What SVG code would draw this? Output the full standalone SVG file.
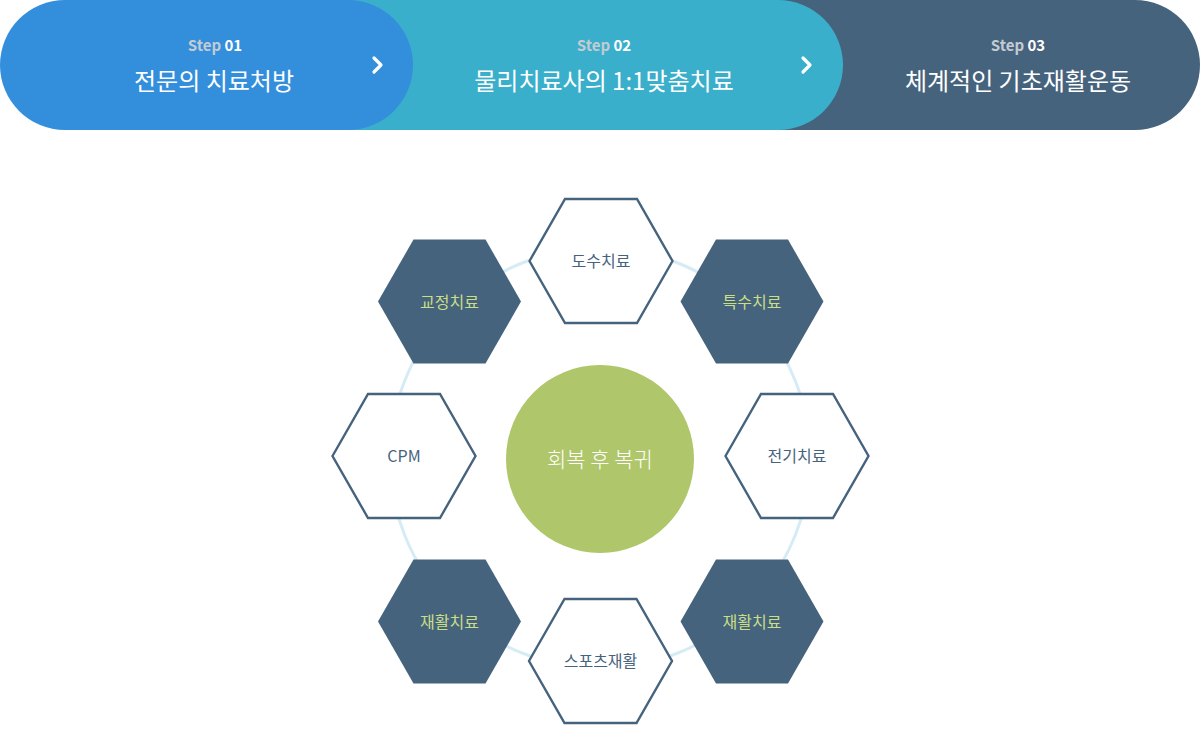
<svg xmlns="http://www.w3.org/2000/svg" xmlns:xlink="http://www.w3.org/1999/xlink" width="1200" height="747" viewBox="0 0 1200 747">
<style>
.kr{font-family:"Noto Sans CJK KR","Noto Sans",sans-serif}
.step{font-size:15px;font-weight:700;text-anchor:middle}
.step .lbl{fill:#c3cbd3}
.step .num{fill:#ffffff}
.title{font-size:24px;font-weight:400;fill:#ffffff;text-anchor:middle}
.chev{fill:none;stroke:#ffffff;stroke-width:3.2;stroke-linecap:round;stroke-linejoin:round}
.hexo{fill:#ffffff;stroke:#46637e;stroke-width:2.4}
.hexd{fill:#46637e;stroke:none}
.to{font-size:16px;font-weight:400;fill:#46637e;text-anchor:middle}
.td{font-size:16px;font-weight:400;fill:#c8df86;text-anchor:middle}
.ring{fill:none;stroke:#d6ecf5;stroke-width:3}
</style>
<defs>
<polygon id="hex" points="-71.5,0 -36,-62 36,-62 71.5,0 36,62 -36,62"/>
</defs>
<rect width="1200" height="747" fill="#ffffff"/>
<g id="step3">
<rect x="700" y="0" width="500" height="130" rx="65" ry="65" fill="#46637e"/>
<text class="kr step" x="1018" y="51"><tspan class="lbl">Step</tspan> <tspan class="num">03</tspan></text>
<text class="kr title" x="1018" y="90">체계적인 기초재활운동</text>
</g>
<g id="step2">
<rect x="250" y="0" width="593" height="130" rx="65" ry="65" fill="#3aafcb"/>
<text class="kr step" x="604" y="51"><tspan class="lbl">Step</tspan> <tspan class="num">02</tspan></text>
<text class="kr title" x="604" y="90">물리치료사의 1:1맞춤치료</text>
<polyline class="chev" points="803,58 810,65 803,72"/>
</g>
<g id="step1">
<rect x="0" y="0" width="413" height="130" rx="65" ry="65" fill="#338edc"/>
<text class="kr step" x="215" y="51"><tspan class="lbl">Step</tspan> <tspan class="num">01</tspan></text>
<text class="kr title" x="214" y="90">전문의 치료처방</text>
<polyline class="chev" points="374,58 381,65 374,72"/>
</g>
<g id="connectors">
<circle class="ring" cx="600" cy="458" r="210"/>
</g>
<g id="center">
<circle cx="600" cy="459" r="94" fill="#afc66a"/>
<text class="kr" x="600" y="467" font-size="21" font-weight="300" fill="#ffffff" text-anchor="middle">회복 후 복귀</text>
</g>
<g id="dosu" transform="translate(601,261)">
<use xlink:href="#hex" href="#hex" class="hexo"/>
<text class="kr to" x="0" y="6">도수치료</text>
</g>
<g id="gyojeong" transform="translate(449.5,301.5)">
<use xlink:href="#hex" href="#hex" class="hexd"/>
<text class="kr td" x="0" y="6">교정치료</text>
</g>
<g id="teuksu" transform="translate(752,301.5)">
<use xlink:href="#hex" href="#hex" class="hexd"/>
<text class="kr td" x="0" y="6">특수치료</text>
</g>
<g id="cpm" transform="translate(404,456)">
<use xlink:href="#hex" href="#hex" class="hexo"/>
<text class="kr to" x="0" y="6">CPM</text>
</g>
<g id="jeongi" transform="translate(797,456)">
<use xlink:href="#hex" href="#hex" class="hexo"/>
<text class="kr to" x="0" y="6">전기치료</text>
</g>
<g id="jaehwal-left" transform="translate(449.5,621.5)">
<use xlink:href="#hex" href="#hex" class="hexd"/>
<text class="kr td" x="0" y="6">재활치료</text>
</g>
<g id="jaehwal-right" transform="translate(752,621.5)">
<use xlink:href="#hex" href="#hex" class="hexd"/>
<text class="kr td" x="0" y="6">재활치료</text>
</g>
<g id="sports" transform="translate(600.5,661)">
<use xlink:href="#hex" href="#hex" class="hexo"/>
<text class="kr to" x="0" y="6">스포츠재활</text>
</g>
</svg>
